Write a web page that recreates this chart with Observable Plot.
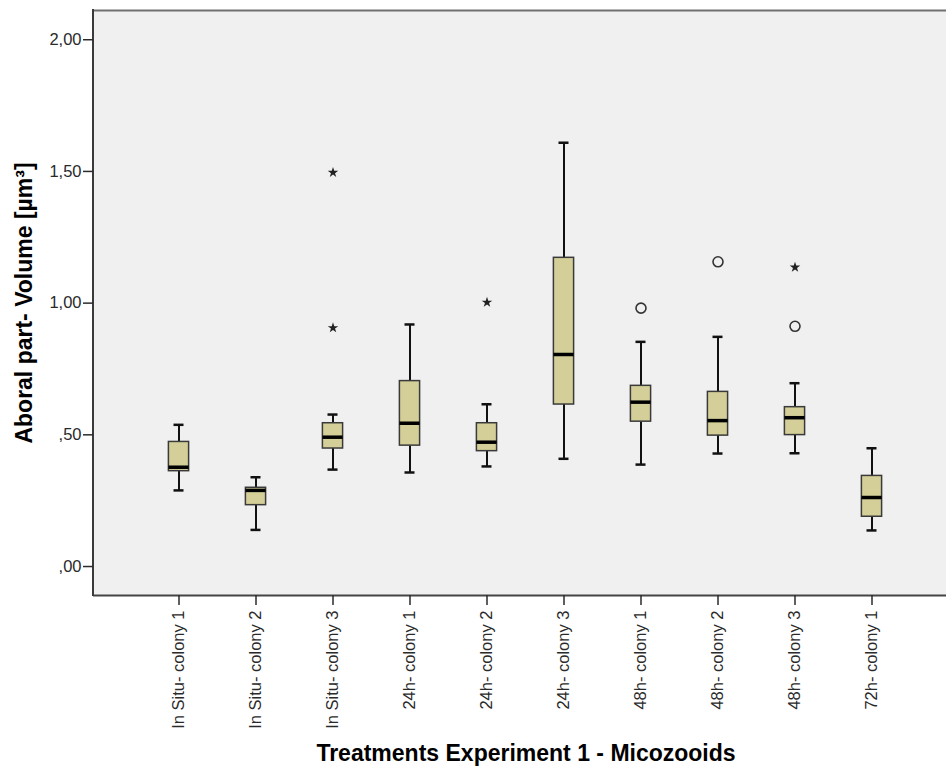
<!DOCTYPE html>
<html>
<head>
<meta charset="utf-8">
<script src="https://cdn.jsdelivr.net/npm/d3@7"></script>
<script src="https://cdn.jsdelivr.net/npm/@observablehq/plot@0.6"></script>
<style>
  html, body { margin: 0; padding: 0; background: #ffffff; }
  svg { display: block; }
</style>
</head>
<body>
<div id="chart"></div>
<script>
// ---- Data ----
const categories = [
  "In Situ- colony 1", "In Situ- colony 2", "In Situ- colony 3",
  "24h- colony 1", "24h- colony 2", "24h- colony 3",
  "48h- colony 1", "48h- colony 2", "48h- colony 3",
  "72h- colony 1"
];
const whiskerLow  = [0.289, 0.139, 0.368, 0.357, 0.380, 0.409, 0.387, 0.429, 0.430, 0.137];
const q1          = [0.362, 0.233, 0.448, 0.459, 0.438, 0.615, 0.550, 0.497, 0.499, 0.189];
const median      = [0.377, 0.289, 0.491, 0.544, 0.472, 0.805, 0.624, 0.554, 0.565, 0.262];
const q3          = [0.473, 0.299, 0.544, 0.704, 0.544, 1.172, 0.686, 0.663, 0.605, 0.344];
const whiskerHigh = [0.538, 0.339, 0.577, 0.919, 0.616, 1.609, 0.853, 0.872, 0.696, 0.449];

const outlierCategory = ["48h- colony 1", "48h- colony 2", "48h- colony 3"];
const outlierValue    = [0.981, 1.157, 0.912];
const extremeCategory = ["In Situ- colony 3", "In Situ- colony 3", "24h- colony 2", "48h- colony 3"];
const extremeValue    = [1.496, 0.906, 1.003, 1.136];

const yTicks = [0, 0.5, 1, 1.5, 2];
const yTickLabels = [",00", ",50", "1,00", "1,50", "2,00"];
const yDomain = [-0.11, 2.111];

const xTitle = "Treatments Experiment 1 - Micozooids";
const yTitle = "Aboral part- Volume [µm³]";

// ---- Build tables ----
const boxes = categories.map((c, i) => ({
  cat: c, lo: whiskerLow[i], q1: q1[i], med: median[i], q3: q3[i], hi: whiskerHigh[i]
}));
const circles = outlierCategory.map((c, i) => ({cat: c, v: outlierValue[i]}));
const stars = extremeCategory.map((c, i) => ({cat: c, v: extremeValue[i]}));

const FONT = "'Liberation Sans', Arial, Helvetica, sans-serif";

const leftLine = (index, scales, values, dimensions) => {
  const {marginLeft, marginTop, height, marginBottom} = dimensions;
  return d3.create("svg:line")
    .attr("x1", marginLeft).attr("x2", marginLeft)
    .attr("y1", marginTop - 1).attr("y2", height - marginBottom + 1)
    .attr("stroke", "#3a3a3a").attr("stroke-width", 2)
    .node();
};

const chart = Plot.plot({
  width: 946,
  height: 768,
  marginLeft: 93,
  marginRight: 0,
  marginTop: 10,
  marginBottom: 173,
  style: {fontFamily: FONT, fontSize: "16.5px", background: "#ffffff", color: "#2a2a2a", overflow: "visible"},
  x: {domain: categories, padding: 0, insetLeft: 42.4, insetRight: 31.6},
  y: {domain: yDomain},
  marks: [
    Plot.frame({fill: "#f0f0f0", stroke: null}),
    Plot.ruleY([yDomain[1]], {stroke: "#707070", strokeWidth: 2}),
    Plot.ruleY([yDomain[0]], {stroke: "#444444", strokeWidth: 2}),
    leftLine,
    Plot.axisY({
      ticks: yTicks,
      tickFormat: d => yTickLabels[yTicks.indexOf(d)],
      tickSize: 10, tickPadding: 2, strokeWidth: 1.5, label: null
    }),
    Plot.axisX({
      tickRotate: -90, tickSize: 10, tickPadding: 5, strokeWidth: 1.5, label: null
    }),
    // whiskers
    Plot.ruleX(boxes, {x: "cat", y1: "lo", y2: "q1", stroke: "#111", strokeWidth: 2}),
    Plot.ruleX(boxes, {x: "cat", y1: "q3", y2: "hi", stroke: "#111", strokeWidth: 2}),
    Plot.tickY(boxes, {x: "cat", y: "lo", stroke: "#111", strokeWidth: 2.5, insetLeft: 33.5, insetRight: 33.5}),
    Plot.tickY(boxes, {x: "cat", y: "hi", stroke: "#111", strokeWidth: 2.5, insetLeft: 33.5, insetRight: 33.5}),
    // boxes
    Plot.barY(boxes, {x: "cat", y1: "q1", y2: "q3", fill: "#d4cf98", stroke: "#3a3a3a", strokeWidth: 1.5, insetLeft: 28.4, insetRight: 28.4}),
    Plot.tickY(boxes, {x: "cat", y: "med", stroke: "#000", strokeWidth: 3.5, insetLeft: 28.4, insetRight: 28.4}),
    // outliers
    Plot.dot(circles, {x: "cat", y: "v", r: 5, stroke: "#333", strokeWidth: 1.6, fill: "none"}),
    Plot.dot(stars, {x: "cat", y: "v", symbol: "star", r: 3.3, fill: "#222", stroke: "none"}),
    // titles
    Plot.text([xTitle], {
      frameAnchor: "bottom", dy: 158.6, dx: 6,
      fontWeight: "bold", fontSize: 23, fill: "#000", lineAnchor: "middle", textAnchor: "middle"
    }),
    Plot.text([yTitle], {
      frameAnchor: "left", dx: -69, rotate: -90,
      fontWeight: "bold", fontSize: 23, fill: "#000", lineAnchor: "middle", textAnchor: "middle"
    })
  ]
});

document.getElementById("chart").appendChild(chart);
</script>
</body>
</html>
